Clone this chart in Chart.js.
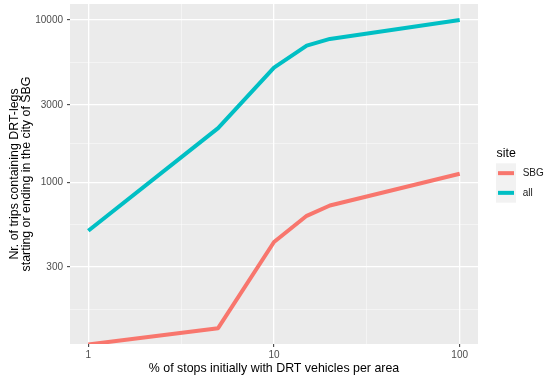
<!DOCTYPE html>
<html><head><meta charset="utf-8">
<script src="https://cdn.jsdelivr.net/npm/chart.js@4/dist/chart.umd.min.js"></script>
<style>html,body{margin:0;padding:0;background:#fff;}</style>
</head><body>
<canvas id="c" width="559" height="383" style="display:block;width:559px;height:383px"></canvas>
<script>
const xValues = [1, 5, 10, 15, 20, 100];
const sbgTrips = [100, 126, 428, 621, 719, 1127];
const allTrips = [502, 2154, 5085, 6950, 7640, 10000];
const seriesNames = ['SBG', 'all'];
const seriesColors = ['#F8766D', '#00BFC4'];
const xTickValues = [1, 10, 100];
const yTickValues = [300, 1000, 3000, 10000];
const xTitle = '% of stops initially with DRT vehicles per area';
const yTitle = ['Nr. of trips containing DRT-legs', 'starting or ending in the city of SBG'];
const legendTitle = 'site';

const FONT = "'Liberation Sans', Arial, sans-serif";
const X_MIN = Math.pow(10, -0.0985), X_MAX = Math.pow(10, 2.0985);
const Y_MIN = Math.pow(10, 2.003), Y_MAX = Math.pow(10, 4.0985);

function minorOf(majors, lo, hi) {
  const L = majors.map(Math.log10);
  const n = L.length;
  const ext = [L[0] - (L[1] - L[0]), ...L, L[n-1] + (L[n-1] - L[n-2])];
  const out = [];
  for (let i = 0; i < ext.length - 1; i++) {
    const v = Math.pow(10, (ext[i] + ext[i+1]) / 2);
    if (v > lo && v < hi) out.push(v);
  }
  return out;
}
function tickSetter(majors, lo, hi) {
  return function(scale) {
    const t = majors.filter(v => v >= lo && v <= hi).map(v => ({value: v, isMinor: false}))
      .concat(minorOf(majors, lo, hi).map(v => ({value: v, isMinor: true})));
    t.sort((a, b) => a.value - b.value);
    scale.ticks = t;
  };
}
const isMinor = ctx => ctx.tick && ctx.tick.isMinor;
function gridOpts() {
  return {
    color: ctx => isMinor(ctx) ? 'rgba(255,255,255,0.75)' : '#FFFFFF',
    lineWidth: ctx => isMinor(ctx) ? 0.6 : 1.3,
    tickColor: ctx => isMinor(ctx) ? 'rgba(0,0,0,0)' : '#333333',
    tickLength: 3,
    tickWidth: 1,
    drawTicks: true
  };
}

const bgPlugin = {
  id: 'ggbg',
  beforeDraw(chart) {
    const {ctx, chartArea: a} = chart;
    ctx.save();
    ctx.fillStyle = '#EBEBEB';
    ctx.fillRect(a.left, a.top, a.right - a.left, a.bottom - a.top);
    ctx.restore();
  },
  afterDraw(chart) {
    const ctx = chart.ctx;
    ctx.save();
    ctx.fillStyle = '#000';
    ctx.font = '12.4px ' + FONT;
    ctx.textBaseline = 'alphabetic';
    ctx.textAlign = 'left';
    ctx.fillText(legendTitle, 496.5, 156.7);
    const keyH = 19.7;
    chart.data.datasets.forEach((ds, i) => {
      const y0 = 163.3 + i * keyH;
      ctx.fillStyle = '#F2F2F2';
      ctx.fillRect(496, y0, 20, keyH);
      ctx.strokeStyle = ds.borderColor;
      ctx.lineWidth = 4;
      ctx.lineCap = 'butt';
      ctx.beginPath();
      ctx.moveTo(498, y0 + keyH / 2);
      ctx.lineTo(514, y0 + keyH / 2);
      ctx.stroke();
      ctx.fillStyle = '#1A1A1A';
      ctx.font = '10px ' + FONT;
      ctx.textBaseline = 'middle';
      ctx.fillText(ds.label, 522.7, y0 + keyH / 2 + 0.5);
    });
    ctx.restore();
  }
};

const seriesValues = [sbgTrips, allTrips];
new Chart(document.getElementById('c'), {
  type: 'line',
  data: {
    datasets: seriesNames.map((name, i) => ({
      label: name,
      data: xValues.map((x, j) => ({x: x, y: seriesValues[i][j]})),
      borderColor: seriesColors[i],
      backgroundColor: seriesColors[i],
      borderWidth: 4,
      pointRadius: 0,
      tension: 0,
      clip: 0,
      borderCapStyle: 'butt',
      borderJoinStyle: 'round',
      fill: false
    }))
  },
  options: {
    responsive: false,
    animation: false,
    devicePixelRatio: 1,
    layout: {padding: {top: 4, right: 81, left: 0, bottom: 0}},
    plugins: {legend: {display: false}, tooltip: {enabled: false}},
    scales: {
      x: {
        type: 'logarithmic',
        min: X_MIN, max: X_MAX,
        afterBuildTicks: tickSetter(xTickValues, X_MIN, X_MAX),
        afterFit: s => { s.height = 39; s.paddingLeft = 0; s.paddingRight = 0; },
        grid: gridOpts(),
        border: {display: false},
        ticks: {
          autoSkip: false, maxRotation: 0, minRotation: 0, padding: 2,
          color: '#4D4D4D', font: {family: FONT, size: 10},
          callback: (v, i, t) => t[i].isMinor ? '' : String(v)
        },
        title: {display: true, text: xTitle, color: '#000', font: {family: FONT, size: 12.4, lineHeight: 0.95}, padding: {top: 0, bottom: 9}}
      },
      y: {
        type: 'logarithmic',
        min: Y_MIN, max: Y_MAX,
        afterBuildTicks: tickSetter(yTickValues, Y_MIN, Y_MAX),
        afterFit: s => { s.width = 70; s.paddingTop = 0; s.paddingBottom = 0; },
        grid: gridOpts(),
        border: {display: false},
        ticks: {
          autoSkip: false, padding: 4,
          color: '#4D4D4D', font: {family: FONT, size: 10},
          callback: (v, i, t) => t[i].isMinor ? '' : String(v)
        },
        title: {display: true, text: yTitle, color: '#000', font: {family: FONT, size: 12.4, lineHeight: 0.95}, padding: {top: 8.5, bottom: 0}}
      }
    }
  },
  plugins: [bgPlugin]
});
</script>
</body></html>
